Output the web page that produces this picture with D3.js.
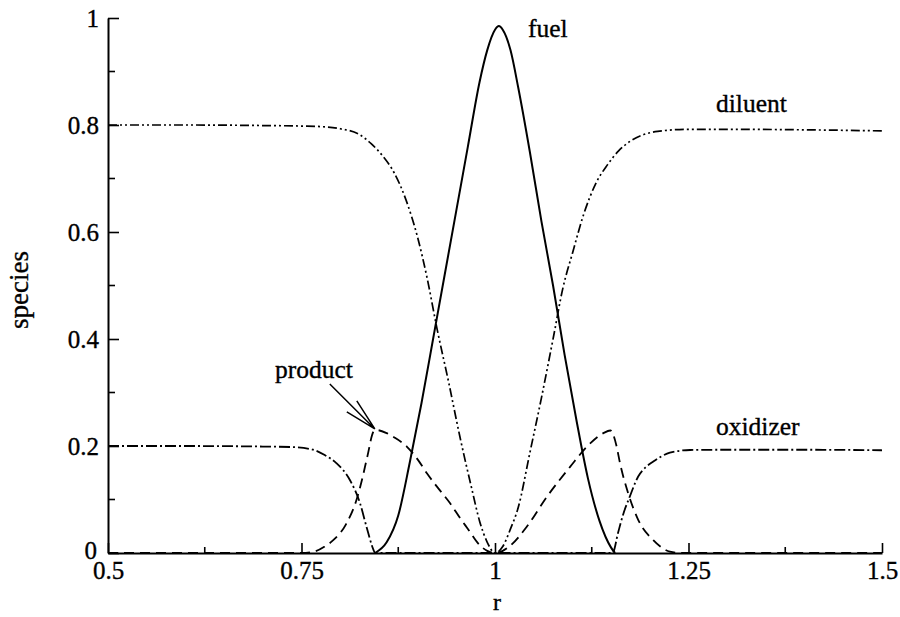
<!DOCTYPE html>
<html>
<head>
<meta charset="utf-8">
<script src="https://cdn.jsdelivr.net/npm/d3@7"></script>
<style>
  html, body { margin: 0; padding: 0; background: #fff; }
  svg { display: block; }
  text { font-family: "Liberation Serif", "Times New Roman", serif; fill: #000; stroke: #000; stroke-width: 0.35px; }
</style>
</head>
<body>
<svg id="chart" width="900" height="617"></svg>
<script>
// Species mass fractions across the flame zone, sampled along r
const fuelR = [0.845, 0.86, 0.875, 0.89, 0.905, 0.92, 0.935, 0.95, 0.965, 0.98, 0.99, 1.0, 1.005, 1.01, 1.02, 1.03, 1.045, 1.06, 1.075, 1.09, 1.105, 1.12, 1.135, 1.15, 1.155];
const fuelY = [0, 0.02, 0.07, 0.17, 0.28, 0.40, 0.52, 0.64, 0.76, 0.88, 0.94, 0.978, 0.985, 0.978, 0.94, 0.87, 0.75, 0.62, 0.50, 0.37, 0.25, 0.14, 0.06, 0.01, 0];

const diluentR = [0.5, 0.6, 0.7, 0.75, 0.775, 0.8, 0.825, 0.84, 0.855, 0.87, 0.885, 0.9, 0.912, 0.925, 0.94, 0.955, 0.97, 0.98, 0.99, 1.0, 1.01, 1.02, 1.03, 1.045, 1.06, 1.075, 1.088, 1.1, 1.115, 1.13, 1.145, 1.16, 1.175, 1.19, 1.21, 1.25, 1.3, 1.4, 1.5];
const diluentY = [0.8, 0.8, 0.799, 0.798, 0.797, 0.793, 0.782, 0.765, 0.742, 0.71, 0.66, 0.59, 0.516, 0.42, 0.32, 0.215, 0.12, 0.06, 0.02, 0.0, 0.012, 0.045, 0.085, 0.187, 0.29, 0.40, 0.497, 0.56, 0.635, 0.69, 0.725, 0.752, 0.77, 0.781, 0.788, 0.792, 0.792, 0.791, 0.789];

const oxidizerR = [0.5, 0.6, 0.7, 0.738, 0.765, 0.78, 0.795, 0.8127, 0.8256, 0.834, 0.843, 0.845, 1.152, 1.159, 1.166, 1.174, 1.185, 1.1945, 1.2045, 1.226, 1.252, 1.3, 1.4, 1.5];
const oxidizerY = [0.2, 0.2, 0.199, 0.198, 0.193, 0.183, 0.168, 0.136, 0.093, 0.049, 0.006, 0, 0, 0.038, 0.074, 0.105, 0.143, 0.16, 0.171, 0.1875, 0.1925, 0.193, 0.193, 0.192];

const productR = [0.5, 0.75, 0.765, 0.78, 0.791, 0.808, 0.821, 0.828, 0.835, 0.843, 0.846, 0.86, 0.87, 0.886, 0.9, 0.912, 0.925, 0.942, 0.955, 0.965, 0.98, 0.99, 1.0, 1.01, 1.02, 1.041, 1.067, 1.097, 1.123, 1.14, 1.149, 1.157, 1.1615, 1.172, 1.185, 1.2045, 1.226, 1.24, 1.5];
const productY = [0, 0, 0.002, 0.012, 0.024, 0.055, 0.099, 0.136, 0.18, 0.227, 0.23, 0.224, 0.216, 0.199, 0.175, 0.149, 0.124, 0.093, 0.065, 0.045, 0.015, 0.004, 0, 0.004, 0.014, 0.049, 0.105, 0.161, 0.205, 0.224, 0.229, 0.2, 0.168, 0.112, 0.062, 0.024, 0.0025, 0, 0];

const xTicks = [0.5, 0.75, 1, 1.25, 1.5];
const xTickLabels = ["0.5", "0.75", "1", "1.25", "1.5"];
const xMinorTicks = [0.625, 0.875, 1.125, 1.375];
const yTicks = [0, 0.2, 0.4, 0.6, 0.8, 1];
const yTickLabels = ["0", "0.2", "0.4", "0.6", "0.8", "1"];
const yMinorTicks = [0.1, 0.3, 0.5, 0.7, 0.9];

const svg = d3.select("#chart");
const plotLeft = 108, plotRight = 882, plotTop = 18, plotBottom = 553;

const x = d3.scaleLinear().domain([0.5, 1.5]).range([plotLeft, plotRight]);
const y = d3.scaleLinear().domain([0, 1]).range([plotBottom, plotTop]);

// Axes: ticks point inward into the plot area
const xAxis = d3.axisBottom(x).tickValues(xTicks).tickSizeInner(-10).tickSizeOuter(0).tickFormat((d, i) => xTickLabels[i]);
const yAxis = d3.axisLeft(y).tickValues(yTicks).tickSizeInner(-11).tickSizeOuter(0).tickFormat((d, i) => yTickLabels[i]);

const gx = svg.append("g").attr("transform", `translate(0,${plotBottom})`).call(xAxis);
const gy = svg.append("g").attr("transform", `translate(${plotLeft},0)`).call(yAxis);

[gx, gy].forEach(g => {
  g.select(".domain").attr("stroke", "#000").attr("stroke-width", 2);
  g.selectAll(".tick line").attr("stroke", "#000").attr("stroke-width", 1.6);
  g.selectAll(".tick text").attr("font-family", "Liberation Serif, serif").attr("font-size", 25).attr("fill", "#000");
});
gx.selectAll(".tick text").attr("y", 8).attr("dy", "0.71em");
gy.selectAll(".tick text").attr("x", -9).attr("dy", "0.34em");
// the "0" label sits just above the first r label
gy.selectAll(".tick text").filter(d => d === 0).attr("dy", "0.22em").attr("x", -11);

// Minor ticks
svg.append("g").selectAll("line").data(xMinorTicks).join("line")
  .attr("x1", d => x(d)).attr("x2", d => x(d))
  .attr("y1", plotBottom).attr("y2", plotBottom - 6)
  .attr("stroke", "#000").attr("stroke-width", 1.6);
svg.append("g").selectAll("line").data(yMinorTicks).join("line")
  .attr("x1", plotLeft).attr("x2", plotLeft + 7)
  .attr("y1", d => y(d)).attr("y2", d => y(d))
  .attr("stroke", "#000").attr("stroke-width", 1.6);

// Species curves
const line = d3.line().x(d => x(d[0])).y(d => y(d[1])).curve(d3.curveMonotoneX);
const zip = (a, b) => a.map((v, i) => [v, b[i]]);

const series = [
  { r: diluentR, v: diluentY, dash: "9,3,2,3,2,3", w: 1.7 },
  { r: oxidizerR, v: oxidizerY, dash: "11,3,2,3", w: 1.8 },
  { r: productR, v: productY, dash: "10,6", w: 1.8 },
  { r: fuelR, v: fuelY, dash: null, w: 2 }
];
series.forEach(s => {
  svg.append("path")
    .attr("d", line(zip(s.r, s.v)))
    .attr("fill", "none")
    .attr("stroke", "#000")
    .attr("stroke-width", s.w)
    .attr("stroke-dasharray", s.dash);
});

// Curve labels
const labels = [
  { t: "fuel", x: 528, y: 37 },
  { t: "diluent", x: 716, y: 112 },
  { t: "oxidizer", x: 716, y: 435 },
  { t: "product", x: 275, y: 378 }
];
svg.append("g").selectAll("text").data(labels).join("text")
  .attr("x", d => d.x).attr("y", d => d.y)
  .attr("font-size", 25.5)
  .text(d => d.t);

// Arrow from the product label to its peak
const pk = d3.maxIndex(productY.slice(0, 12));
const tipX = x(productR[pk]) - 1, tipY = y(productY[pk]) - 1;
svg.append("path")
  .attr("d", `M${tipX - 45},${tipY - 45} L${tipX},${tipY} M${tipX - 28},${tipY - 17} L${tipX},${tipY} L${tipX - 18},${tipY - 28}`)
  .attr("fill", "none").attr("stroke", "#000").attr("stroke-width", 1.5);

// Axis titles
svg.append("text").attr("x", 497).attr("y", 610).attr("text-anchor", "middle").attr("font-size", 24).text("r");
svg.append("text").attr("transform", "translate(28,290) rotate(-90)").attr("text-anchor", "middle").attr("font-size", 27).text("species");
</script>
</body>
</html>
